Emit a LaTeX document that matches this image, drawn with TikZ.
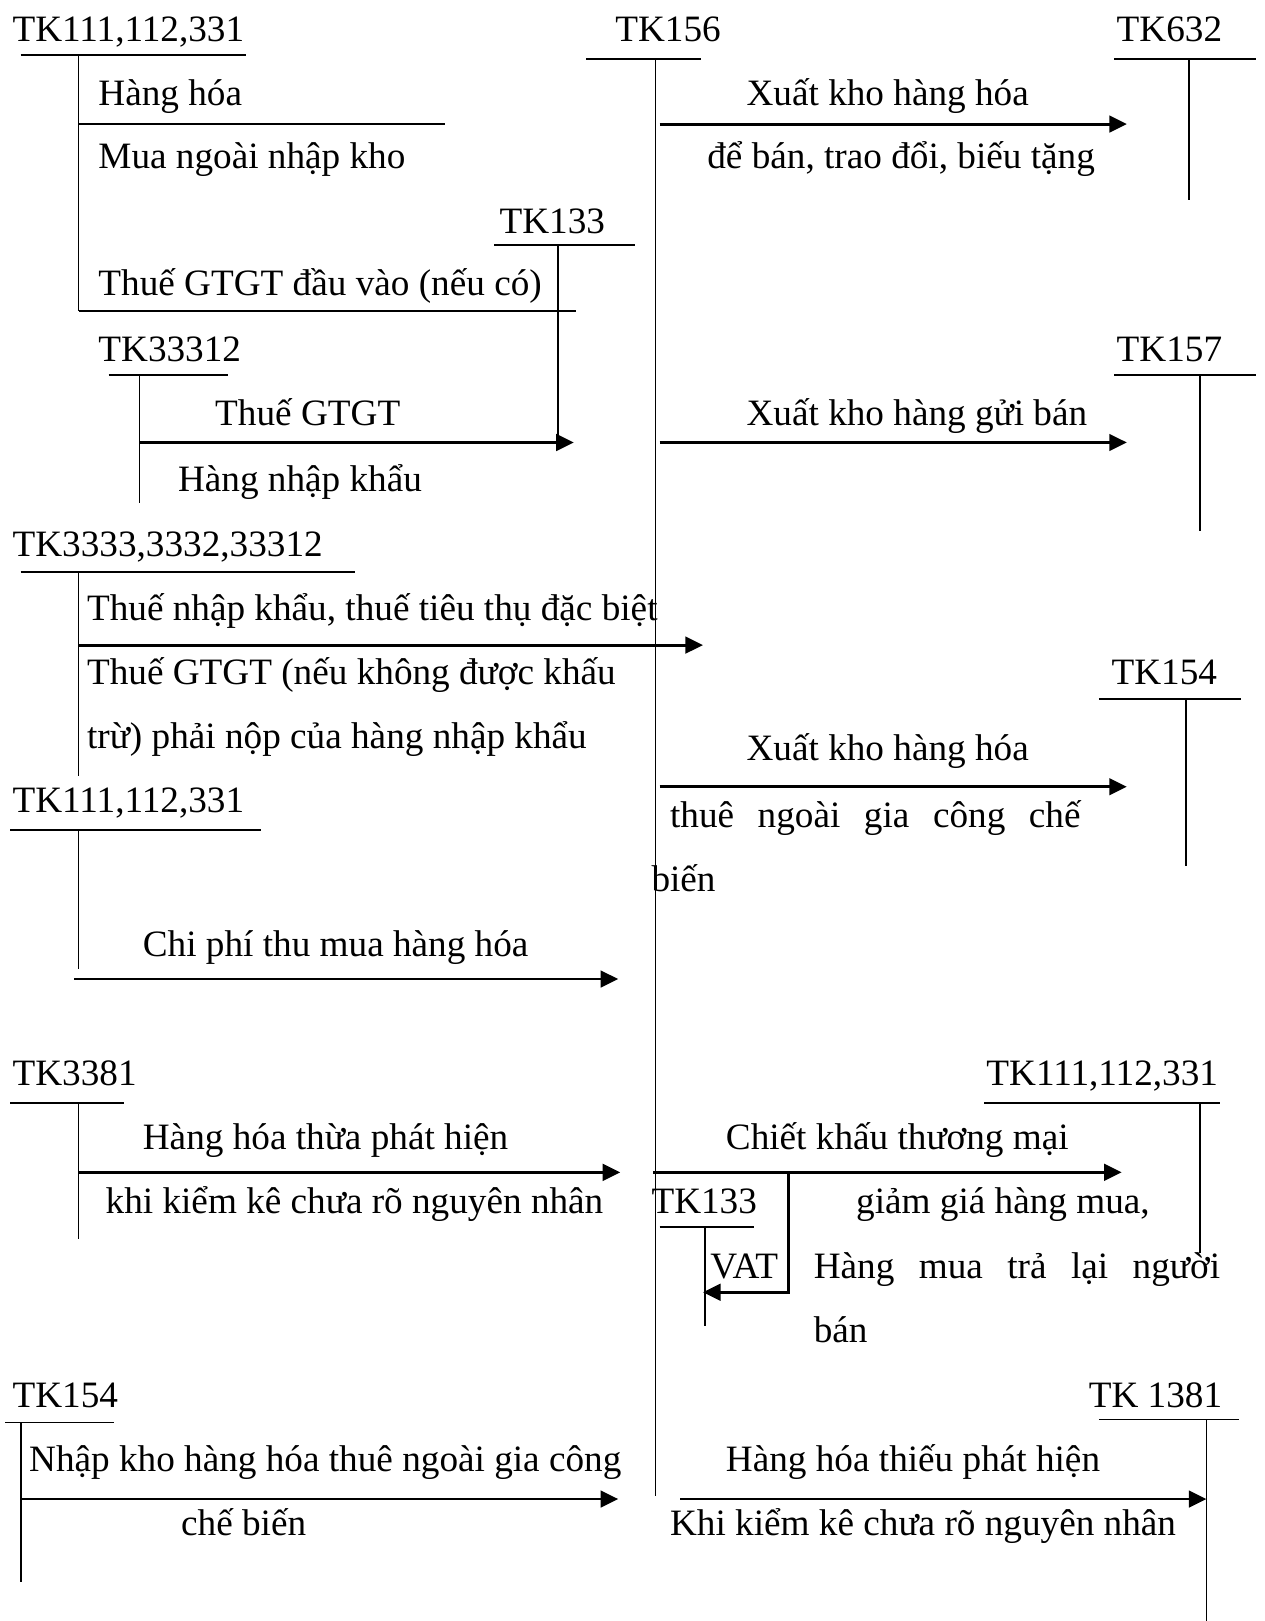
\documentclass[tikz,border=0pt]{standalone}
\usepackage{fontspec}
\setmainfont{Liberation Serif}
\usetikzlibrary{arrows.meta}

% T-account: name, left x, right x, bar y, stem x, stem bottom y
\newcommand\taccount[6]{%
  \coordinate (#1-l) at (#2,#4);
  \coordinate (#1-r) at (#3,#4);
  \coordinate (#1-t) at (#5,#4);
  \coordinate (#1-b) at (#5,#6);
  \draw[tline] (#1-l) -- (#1-r);
  \draw[tline] (#1-t) -- (#1-b);
}

\begin{document}
\begin{tikzpicture}[x=1pt,y=-1pt,
  txt/.style={anchor=base west,inner sep=0pt,yshift=-2pt,font=\fontsize{36}{43}\selectfont},
  tline/.style={line width=1.7pt},
  flow/.style={line width=2.8pt,-{Triangle[length=17pt,width=16pt]}}]
\useasboundingbox (0,0) rectangle (1223,1568);

% ---------- account headings ----------
\node[txt] (nA)   at (12,38)   {TK111,112,331};
\node[txt] (n156) at (595,38)  {TK156};
\node[txt] (n632) at (1080,38) {TK632};
\node[txt] (n133) at (483,224) {TK133};
\node[txt] (n333) at (95,348)  {TK33312};
\node[txt] (n157) at (1080,348){TK157};
\node[txt] (nB)   at (12,536)  {TK3333,3332,33312};
\node[txt] (n154r) at (1075,660) {TK154};
\node[txt] (nC)   at (12,784)  {TK111,112,331};
\node[txt] (n3381) at (12,1048) {TK3381};
\node[txt] (nD)   at (954,1048) {TK111,112,331};
\node[txt] (n133b) at (630,1172) {TK133};
\node[txt] (n154l) at (12,1359) {TK154};
\node[txt] (n1381) at (1053,1359) {TK 1381};

% ---------- T-accounts ----------
\taccount{tA}{20}{238}{53}{76}{301}
\taccount{t156}{567}{678}{57}{634}{1447}
\taccount{t632}{1078}{1215}{57}{1150}{193}
\taccount{t133}{478}{614}{237}{540}{428}
\taccount{t333}{105}{221}{363}{135}{487}
\taccount{t157}{1078}{1215}{363}{1161}{514}
\taccount{tB}{20}{343}{553}{76}{751}
\taccount{t154r}{1063}{1200}{676}{1147}{838}
\taccount{tC}{10}{252}{803}{76}{937}
\taccount{t3381}{10}{120}{1067}{76}{1198}
\taccount{tD}{952}{1180}{1067}{1161}{1212}
\taccount{t133b}{638}{729}{1187}{682}{1283}
\taccount{t154l}{5}{110}{1376}{20}{1530}
\taccount{t1381}{1063}{1198}{1373}{1167}{1568}

% ---------- purchases into TK156 ----------
\coordinate (p1a) at (76,120);  \coordinate (p1b) at (430,120);
\draw[tline] (p1a) -- (p1b);
\node[txt] at (95,100) {Hàng hóa};
\node[txt] at (95,161) {Mua ngoài nhập kho};

\coordinate (p2a) at (76,301);  \coordinate (p2b) at (557,301);
\draw[tline] (p2a) -- (p2b);
\node[txt] at (95,284) {Thuế GTGT đầu vào (nếu có)};

\coordinate (p3a) at (135,428); \coordinate (p3b) at (555,428);
\draw[flow] (p3a) -- (p3b);
\node[txt] at (208,410) {Thuế GTGT};
\node[txt] at (172,473) {Hàng nhập khẩu};

\coordinate (p4a) at (76,624);  \coordinate (p4b) at (680,624);
\draw[flow] (p4a) -- (p4b);
\node[txt] at (84,598) {Thuế nhập khẩu, thuế tiêu thụ đặc biệt};
\node[txt] at (84,660) {Thuế GTGT (nếu không được khấu};
\node[txt] at (84,722) {trừ) phải nộp của hàng nhập khẩu};

\coordinate (p5a) at (72,947);  \coordinate (p5b) at (598,947);
\draw[flow] (p5a) -- (p5b);
\node[txt] at (138,923) {Chi phí thu mua hàng hóa};

\coordinate (p6a) at (76,1134); \coordinate (p6b) at (600,1134);
\draw[flow] (p6a) -- (p6b);
\node[txt] at (138,1110) {Hàng hóa thừa phát hiện};
\node[txt] at (102,1172) {khi kiểm kê chưa rõ nguyên nhân};

\coordinate (p7a) at (20,1450); \coordinate (p7b) at (598,1450);
\draw[flow] (p7a) -- (p7b);
\node[txt] at (28,1421) {Nhập kho hàng hóa thuê ngoài gia công};
\node[txt] at (175,1483) {chế biến};

% ---------- issues out of TK156 ----------
\coordinate (q1a) at (638,120); \coordinate (q1b) at (1090,120);
\draw[flow] (q1a) -- (q1b);
\node[txt] at (722,100) {Xuất kho hàng hóa};
\node[txt] at (684,161) {để bán, trao đổi, biếu tặng};

\coordinate (q2a) at (638,428); \coordinate (q2b) at (1090,428);
\draw[flow] (q2a) -- (q2b);
\node[txt] at (722,410) {Xuất kho hàng gửi bán};

\coordinate (q3a) at (638,761); \coordinate (q3b) at (1090,761);
\draw[flow] (q3a) -- (q3b);
\node[txt] at (722,734) {Xuất kho hàng hóa};
\node[txt] at (648,798) {\hbox to 397pt{thuê\hfill ngoài\hfill gia\hfill công\hfill chế}};
\node[txt] at (630,860) {biến};

\coordinate (q4a) at (632,1134); \coordinate (q4b) at (1085,1134);
\coordinate (q4k) at (763,1134); \coordinate (q4m) at (763,1250);
\coordinate (q4e) at (680,1250);
\draw[flow] (q4a) -- (q4b);
\draw[flow] (q4k) -- (q4m) -- (q4e);
\node[txt] at (702,1110) {Chiết khấu thương mại};
\node[txt] at (828,1172) {giảm giá hàng mua,};
\node[txt] at (687,1235) {VAT};
\node[txt] at (787,1235) {\hbox to 393pt{Hàng\hfill mua\hfill trả\hfill lại\hfill người}};
\node[txt] at (787,1297) {bán};

\coordinate (q5a) at (658,1450); \coordinate (q5b) at (1167,1450);
\draw[flow] (q5a) -- (q5b);
\node[txt] at (702,1421) {Hàng hóa thiếu phát hiện};
\node[txt] at (648,1483) {Khi kiểm kê chưa rõ nguyên nhân};
\end{tikzpicture}
\end{document}
